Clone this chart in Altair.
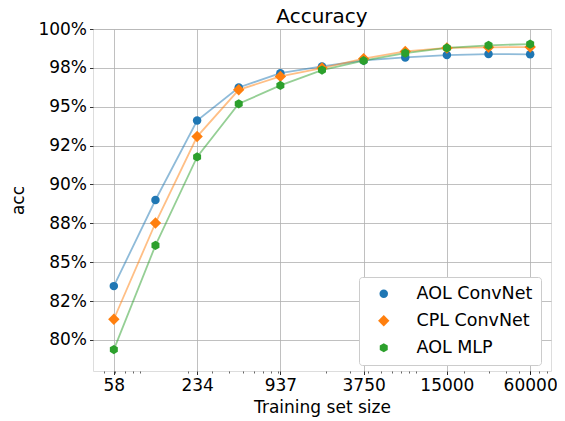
import altair as alt
import pandas as pd
import json

# ---- data ----
sizes = [58.59375, 117.1875, 234.375, 468.75, 937.5, 1875, 3750, 7500, 15000, 30000, 60000]
aol_convnet = [0.8346, 0.8900, 0.9411, 0.9624, 0.9716, 0.9759, 0.9798, 0.9817, 0.9832, 0.9839, 0.9837]
cpl_convnet = [0.8133, 0.8752, 0.9308, 0.9609, 0.9695, 0.9749, 0.9809, 0.9856, 0.9878, 0.9882, 0.9884]
aol_mlp = [0.7938, 0.8608, 0.9177, 0.9519, 0.9637, 0.9736, 0.9796, 0.9845, 0.9878, 0.9895, 0.9903]

series_names = ["AOL ConvNet", "CPL ConvNet", "AOL MLP"]
series_colors = ["#1f77b4", "#ff7f0e", "#2ca02c"]
title_text = "Accuracy"

x_tick_values = [58.59375, 234.375, 937.5, 3750, 15000, 60000]
x_tick_labels = ["58", "234", "937", "3750", "15000", "60000"]
x_minor_ticks = [50, 60, 70, 80, 90, 200, 300, 400, 500, 600, 700, 800, 900,
                 2000, 3000, 4000, 5000, 6000, 7000, 8000, 9000,
                 20000, 30000, 40000, 50000, 60000, 70000, 80000]
y_tick_values = [0.8, 0.825, 0.85, 0.875, 0.9, 0.925, 0.95, 0.975, 1.0]
y_tick_labels = ["80%", "82%", "85%", "88%", "90%", "92%", "95%", "98%", "100%"]

rows = []
for name, vals in zip(series_names, [aol_convnet, cpl_convnet, aol_mlp]):
    for s, v in zip(sizes, vals):
        rows.append({"size": s, "acc": v, "series": name})
df = pd.DataFrame(rows)

FONT = "DejaVu Sans"
hexagon = "M0,-1L0.866,-0.5L0.866,0.5L0,1L-0.866,0.5L-0.866,-0.5Z"

W, H = 458, 342
x_domain = [41.42, 84880]
y_domain = [0.78, 1.0]

x_label_expr = f"{json.dumps(x_tick_labels)}[indexof({json.dumps(x_tick_values)}, datum.value)]"
y_label_expr = f"{json.dumps(y_tick_labels)}[indexof({json.dumps(y_tick_values)}, datum.value)]"

x_scale = alt.Scale(type="log", domain=x_domain, nice=False, zero=False)
y_scale = alt.Scale(domain=y_domain, nice=False, zero=False)

x_main = alt.X(
    "size:Q",
    scale=x_scale,
    axis=alt.Axis(
        values=x_tick_values, labelExpr=x_label_expr, title="Training set size",
        grid=True, gridColor="#b0b0b0", gridWidth=0.8, domain=False,
        tickColor="black", tickSize=3.5, tickWidth=0.8, orient="bottom",
        labelFont=FONT, labelFontSize=17, labelColor="black", labelPadding=3,
        titleFont=FONT, titleFontSize=17, titleFontWeight="normal", titleColor="black",
        titlePadding=6,
    ),
)
y_main = alt.Y(
    "acc:Q",
    scale=y_scale,
    axis=alt.Axis(
        values=y_tick_values, labelExpr=y_label_expr, title="acc",
        grid=True, gridColor="#b0b0b0", gridWidth=0.8, domain=False,
        tickColor="black", tickSize=3.5, tickWidth=0.8,
        labelFont=FONT, labelFontSize=17, labelColor="black", labelPadding=3,
        titleFont=FONT, titleFontSize=17, titleFontWeight="normal", titleColor="black",
        titlePadding=10,
    ),
)

legend = alt.Legend(
    title=None, orient="none", legendX=266, legendY=248,
    labelFont=FONT, labelFontSize=17.5, labelColor="black",
    fillColor="white", strokeColor="#cccccc", cornerRadius=3,
    padding=8, rowPadding=8, symbolOffset=8, labelOffset=24,
    symbolStrokeWidth=0, symbolOpacity=1,
)

color_scale = alt.Scale(domain=series_names, range=series_colors)

color_enc = alt.Color("series:N", scale=color_scale, sort=series_names, legend=legend)
shape_enc = alt.Shape(
    "series:N",
    scale=alt.Scale(domain=series_names, range=["circle", "diamond", hexagon]),
    sort=series_names,
    legend=legend,
)
size_enc = alt.Size(
    "series:N",
    scale=alt.Scale(type="ordinal", domain=series_names, range=[72, 130, 85]),
    sort=series_names,
    legend=legend,
)

lines = alt.Chart(df).mark_line(strokeWidth=1.8, opacity=0.5).encode(
    x=x_main, y=y_main,
    color=alt.Color("series:N", scale=color_scale, sort=series_names, legend=legend),
    detail="series:N",
    order="size:Q",
)

points = alt.Chart(df).mark_point(filled=True, opacity=1, strokeWidth=0).encode(
    x=alt.X("size:Q", scale=x_scale, axis=None),
    y=alt.Y("acc:Q", scale=y_scale),
    color=color_enc, shape=shape_enc, size=size_enc,
)

minor = alt.Chart(df).mark_point(opacity=0).encode(
    x=alt.X(
        "size:Q",
        scale=x_scale,
        axis=alt.Axis(
            values=x_minor_ticks, labels=False, grid=False, domain=False,
            orient="bottom", title=None, tickColor="black", tickSize=2, tickWidth=0.6,
        ),
    ),
    y=alt.Y("acc:Q", scale=y_scale),
)

title_layer = alt.Chart(alt.Data(values=[{"t": title_text}])).mark_text(
    font=FONT, fontSize=20, color="black", align="center", baseline="alphabetic",
).encode(
    x=alt.value(W / 2),
    y=alt.value(-6),
    text="t:N",
)

chart = (
    alt.layer(lines, points, minor, title_layer)
    .resolve_axis(x="independent")
    .properties(
        width=W, height=H,
        autosize=alt.AutoSizeParams(type="none"),
        padding={"left": 85, "top": 21, "right": 6, "bottom": 60},
    )
    .configure_view(stroke="black", strokeWidth=0.8)
    .configure(background="white")
)

chart.save("out.html", embed_options={"renderer": "svg", "actions": False})
